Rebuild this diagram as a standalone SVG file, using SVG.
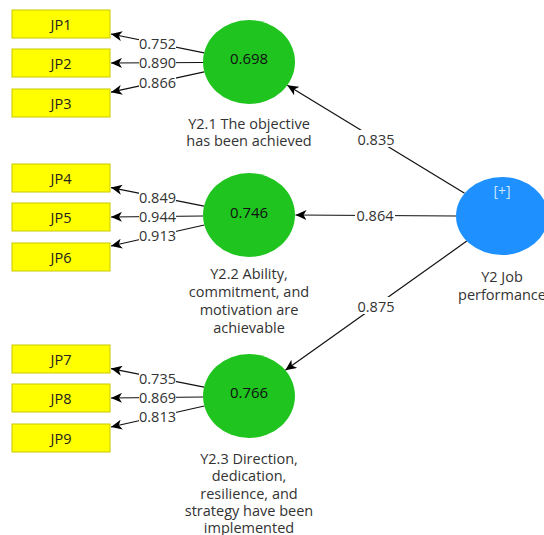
<svg xmlns="http://www.w3.org/2000/svg" width="544" height="535" viewBox="0 0 544 535">
<defs>
<style>
.box{fill:#ffff00;stroke:#c8c800;stroke-width:1}
.boxt{font-family:"Open Sans","Noto Sans",sans-serif;font-size:14.5px;fill:#222;text-anchor:middle;dominant-baseline:central}
.lv{fill:#1fc41f}
.val{font-family:"Open Sans","Noto Sans",sans-serif;font-size:15px;fill:#111;text-anchor:middle;dominant-baseline:central}
.cap{font-family:"Open Sans","Noto Sans",sans-serif;font-size:14.5px;fill:#333;text-anchor:middle;dominant-baseline:central}
.ln{stroke:#111;stroke-width:1.2;fill:none;marker-end:url(#ah)}
.lbl{font-family:"Open Sans","Noto Sans",sans-serif;font-size:14.5px;fill:#333;text-anchor:middle;dominant-baseline:central}
.lbg{fill:#fff}
</style>
<marker id="ah" markerUnits="userSpaceOnUse" markerWidth="12" markerHeight="10" refX="11" refY="5" orient="auto">
<path d="M0,0 L11,5 L0,10 L3,5 z" fill="#000"/>
</marker>
</defs>
<rect width="544" height="535" fill="#fff"/>

<g id="connectors">
<line class="ln" x1="204.1" y1="52.9" x2="111" y2="34"/>
<line class="ln" x1="203" y1="62.5" x2="111" y2="63"/>
<line class="ln" x1="204.3" y1="71.8" x2="111" y2="92.2"/>
<line class="ln" x1="204.1" y1="206.2" x2="111" y2="187.6"/>
<line class="ln" x1="203" y1="216" x2="111" y2="217"/>
<line class="ln" x1="204.3" y1="225" x2="111" y2="246"/>
<line class="ln" x1="204.1" y1="387.2" x2="111" y2="368.6"/>
<line class="ln" x1="203" y1="397" x2="111" y2="398"/>
<line class="ln" x1="204.3" y1="406" x2="111" y2="427"/>
<line class="ln" x1="464.6" y1="193.3" x2="287.3" y2="85.3"/>
<line class="ln" x1="456" y1="216" x2="295.5" y2="215"/>
<line class="ln" x1="466.8" y1="241.1" x2="285.3" y2="370.2"/>

<rect class="lbg" x="139" y="36" width="37" height="15"/><text class="lbl" x="157.5" y="43.4">0.752</text>
<rect class="lbg" x="139" y="55" width="37" height="15"/><text class="lbl" x="157.5" y="62.7">0.890</text>
<rect class="lbg" x="139" y="74" width="37" height="15"/><text class="lbl" x="157.5" y="82">0.866</text>
<rect class="lbg" x="139" y="189" width="37" height="15"/><text class="lbl" x="157.5" y="197">0.849</text>
<rect class="lbg" x="139" y="209" width="37" height="15"/><text class="lbl" x="157.5" y="216.5">0.944</text>
<rect class="lbg" x="139" y="228" width="37" height="15"/><text class="lbl" x="157.5" y="235.5">0.913</text>
<rect class="lbg" x="139" y="370" width="37" height="15"/><text class="lbl" x="157.5" y="378">0.735</text>
<rect class="lbg" x="139" y="390" width="37" height="15"/><text class="lbl" x="157.5" y="397.5">0.869</text>
<rect class="lbg" x="139" y="409" width="37" height="15"/><text class="lbl" x="157.5" y="416.5">0.813</text>
<rect class="lbg" x="356" y="130" width="40" height="17"/><text class="lbl" x="376" y="139">0.835</text>
<rect class="lbg" x="355" y="206" width="40" height="17"/><text class="lbl" x="375" y="215">0.864</text>
<rect class="lbg" x="356" y="297" width="40" height="17"/><text class="lbl" x="376" y="306">0.875</text>
</g>

<g id="JP1"><rect class="box" x="12" y="10" width="98" height="28"/><text class="boxt" x="61" y="24">JP1</text></g>
<g id="JP2"><rect class="box" x="12" y="49" width="98" height="28"/><text class="boxt" x="61" y="63">JP2</text></g>
<g id="JP3"><rect class="box" x="12" y="89" width="98" height="28"/><text class="boxt" x="61" y="103">JP3</text></g>
<g id="JP4"><rect class="box" x="12" y="164" width="98" height="28"/><text class="boxt" x="61" y="178">JP4</text></g>
<g id="JP5"><rect class="box" x="12" y="203" width="98" height="28"/><text class="boxt" x="61" y="217">JP5</text></g>
<g id="JP6"><rect class="box" x="12" y="243" width="98" height="28"/><text class="boxt" x="61" y="257">JP6</text></g>
<g id="JP7"><rect class="box" x="12" y="345" width="98" height="28"/><text class="boxt" x="61" y="359">JP7</text></g>
<g id="JP8"><rect class="box" x="12" y="384" width="98" height="28"/><text class="boxt" x="61" y="398">JP8</text></g>
<g id="JP9"><rect class="box" x="12" y="424" width="98" height="28"/><text class="boxt" x="61" y="438">JP9</text></g>

<g id="Y2_1">
<ellipse class="lv" cx="249" cy="62" rx="46" ry="42"/>
<text class="val" x="249" y="58">0.698</text>
<text class="cap" x="249" y="123">Y2.1 The objective</text>
<text class="cap" x="249" y="140">has been achieved</text>
</g>
<g id="Y2_2">
<ellipse class="lv" cx="249" cy="215" rx="46" ry="42"/>
<text class="val" x="249" y="212">0.746</text>
<text class="cap" x="249" y="273">Y2.2 Ability,</text>
<text class="cap" x="249" y="291">commitment, and</text>
<text class="cap" x="249" y="309">motivation are</text>
<text class="cap" x="249" y="327">achievable</text>
</g>
<g id="Y2_3">
<ellipse class="lv" cx="249" cy="396" rx="46" ry="42"/>
<text class="val" x="249" y="392">0.766</text>
<text class="cap" x="249" y="458">Y2.3 Direction,</text>
<text class="cap" x="249" y="475.5">dedication,</text>
<text class="cap" x="249" y="493">resilience, and</text>
<text class="cap" x="249" y="510.5">strategy have been</text>
<text class="cap" x="249" y="527">implemented</text>
</g>
<g id="Y2">
<ellipse cx="502" cy="216" rx="46" ry="39" fill="#1e90ff"/>
<text x="502" y="190" font-family="'Open Sans','Noto Sans',sans-serif" font-size="14" fill="#cfe6ff" text-anchor="middle" dominant-baseline="central">[+]</text>
<text class="cap" x="502" y="276">Y2 Job</text>
<text class="cap" x="502" y="294">performance</text>
</g>
</svg>
